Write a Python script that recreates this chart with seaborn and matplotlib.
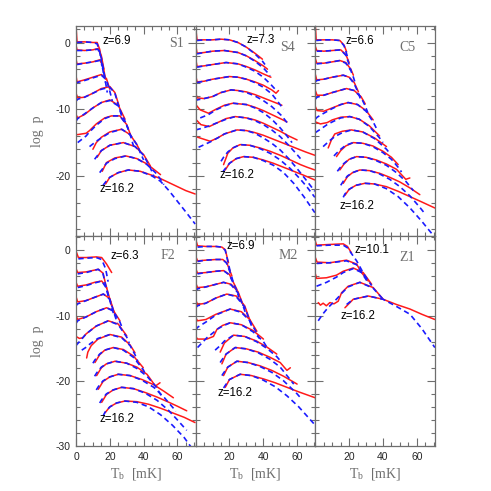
import numpy as np
import pandas as pd
import matplotlib
matplotlib.use("Agg")
import matplotlib.pyplot as plt
import seaborn as sns
from matplotlib.ticker import MultipleLocator, FixedLocator

N = None

# ---------------- data (T_b in mK, log p) ----------------
# each panel: list of curves; T = temperatures, sim = simulation (red), fit = model (blue dashed)
S1_T = [
    [0, 0.6, 5, 10, 12.5, 14, 15.5, 16.5],
    [0, 0.6, 5, 10, 13, 15, 16.5, 17.5],
    [0, 0.6, 5, 10, 14, 16, 17.5, 18.5],
    [0, 0.6, 5, 10, 15, 18, 20, 21.5],
    [0, 1, 5, 10, 15, 20, 23, 25.5, 27],
    [0, 1, 5, 10, 15, 20, 25, 29, 31],
    [0, 1, 6, 8, 12, 17, 21, 26, 30, 32.5, 34],
    [8, 10, 12, 15, 20, 27, 32, 36, 38, 40],
    [11, 12.5, 15, 20, 28, 35, 40, 44, 46],
    [14, 15.5, 18, 23, 29.5, 36, 42, 47, 50, 52],
    [16, 17.5, 20, 25, 31, 38, 45, 50, 55, 60, 65, 70.5],
]
S1_sim = [
    [2.4, 0.1, 0.1, 0.0, 0.0, -1.0, -3.0, N],
    [-0.4, -1.1, -1.2, -1.1, -0.9, -2.0, -4.0, N],
    [-2.5, -3.2, -3.1, -2.9, -2.6, -3.5, -5.5, N],
    [-5.0, -5.9, -5.6, -5.2, -4.8, -5.4, -7.0, N],
    [-7.6, -8.3, -8.2, -7.6, -6.9, -6.6, -7.5, -9.5, N],
    [-10.8, -11.3, -10.8, -9.8, -9.0, -8.6, -9.4, -11.5, N],
    [-13.8, -13.8, -13.6, -13.2, -12.2, -11.3, -11.0, -11.0, -12.3, -14.0, N],
    [N, -16.0, -15.0, -14.2, -13.4, -13.0, -13.8, -15.3, -16.3, N],
    [N, -17.2, -16.2, -15.4, -15.0, -15.6, -16.8, -18.5, N],
    [N, -19.3, -18.0, -17.3, -17.0, -17.4, -18.2, -19.2, -19.8, N],
    [N, -21.2, -20.2, -19.5, -19.1, -19.3, -19.9, -20.4, -21.0, -21.6, -22.2, -22.7],
]
S1_fit = [
    [N, 0.0, 0.1, 0.0, -0.2, -1.4, -3.5, -5.0],
    [N, -1.2, -1.2, -1.1, -1.0, -2.3, -4.5, -6.0],
    [N, -3.3, -3.1, -2.9, -2.7, -3.8, -6.0, -7.5],
    [-6.2, -6.0, -5.7, -5.3, -4.9, -5.6, -7.3, -8.8],
    [-8.8, -8.5, -8.2, -7.6, -7.0, -6.7, -7.6, -9.8, -11.0],
    [-11.8, -11.4, -10.7, -9.8, -9.0, -8.7, -9.5, -11.8, -13.0],
    [N, -15.0, -14.0, -13.4, -12.4, -11.4, -11.0, -11.0, -12.4, -14.2, -15.5],
    [-15.6, -15.2, -14.8, -14.3, -13.5, -13.0, -13.8, -15.3, -16.5, -17.6],
    [-17.5, -17.0, -16.2, -15.4, -15.0, -15.6, -16.9, -18.8, -20.0],
    [-19.5, -19.0, -18.1, -17.4, -17.0, -17.4, -18.3, -19.5, -20.5, -21.3],
    [-21.4, -20.9, -20.2, -19.5, -19.1, -19.3, -20.0, -20.8, -22.2, -23.8, -25.4, -27.2],
]

S4_T = [
    [0, 0.8, 5, 10, 15, 20, 25, 30, 35, 39.5, 41],
    [0, 0.8, 5, 10, 17, 25, 30, 35, 40, 42.5, 44],
    [0, 0.8, 5, 10, 18, 25, 30, 35, 40, 44.5, 47],
    [0, 0.8, 5, 10, 20, 25, 30, 35, 40, 45, 47.5, 49, 52],
    [0, 0.8, 5, 10, 15, 21, 25, 30, 35, 40, 45, 51, 54],
    [0, 2.7, 7.6, 12, 17, 22, 30, 35, 40, 45, 50, 54, 57],
    [0, 3, 8, 13, 18, 23.4, 30, 35, 40, 45, 50, 55, 60, 62],
    [0, 1.7, 8.6, 13, 17, 24.4, 30, 35, 40, 45, 50, 55, 60, 65, 70.5],
    [15, 16.5, 19, 22, 26.3, 32, 38, 44, 50, 56, 62, 66, 70.5],
    [16, 17.5, 20, 24, 28.3, 34, 40, 46, 52, 58, 64, 70.5],
]
S4_sim = [
    [2.2, 0.4, 0.4, 0.4, 0.5, 0.4, 0.0, -0.7, -1.6, -2.5, N],
    [-0.3, -1.6, -1.5, -1.3, -1.2, -1.5, -2.0, -2.7, -3.5, -4.0, N],
    [-2.4, -3.6, -3.5, -3.3, -3.0, -3.2, -3.6, -4.1, -4.7, -5.2, N],
    [-4.9, -5.9, -5.8, -5.5, -5.1, -5.2, -5.5, -5.9, -6.4, -7.1, -7.6, -7.2, N],
    [-7.5, -8.3, -8.4, -8.1, -7.5, -7.1, -7.2, -7.4, -7.8, -8.3, -8.8, -9.4, N],
    [-9.3, -10.1, -10.6, -10.0, -9.4, -9.1, -9.3, -9.7, -10.2, -10.8, -11.4, -11.9, N],
    [-11.5, -12.3, -12.6, -12.0, -11.4, -11.1, -11.3, -11.6, -12.1, -12.7, -13.3, -14.0, -14.6, N],
    [-14.1, N, -14.8, -14.3, -13.7, -13.1, -13.2, -13.5, -13.9, -14.4, -14.9, -15.4, -15.9, -16.4, -16.9],
    [N, -18.3, -16.6, -15.8, -15.3, -15.4, -15.8, -16.3, -16.9, -17.6, -18.3, -18.7, -19.1],
    [N, -19.1, -18.1, -17.4, -17.1, -17.2, -17.6, -18.1, -18.7, -19.3, -19.9, -20.6],
]
S4_fit = [
    [N, 0.3, 0.4, 0.4, 0.5, 0.4, 0.0, -0.7, -1.7, -2.8, -3.3],
    [N, -1.7, -1.5, -1.3, -1.2, -1.5, -2.0, -2.8, -3.8, -4.5, -5.0],
    [N, -3.7, -3.5, -3.3, -3.0, -3.2, -3.7, -4.3, -5.2, -6.3, -7.0],
    [N, -6.0, -5.8, -5.5, -5.1, -5.2, -5.5, -6.0, -6.7, -7.7, N, -9.0, -10.0],
    [-8.8, -8.6, -8.4, -8.1, -7.5, -7.1, -7.2, -7.5, -8.0, -8.7, -9.6, -11.0, -12.0],
    [N, -11.3, -10.8, -10.1, -9.5, -9.1, -9.3, -9.8, -10.5, -11.5, -12.8, -14.0, -15.0],
    [-13.1, -12.9, -12.5, -12.0, -11.5, -11.1, -11.3, -11.7, -12.3, -13.1, -14.1, -15.4, -16.8, -17.4],
    [N, -15.7, -14.9, -14.3, -13.7, -13.1, -13.2, -13.6, -14.3, -15.1, -16.1, -17.4, -18.9, -20.5, -22.3],
    [-17.8, -17.2, -16.4, -15.8, -15.3, -15.4, -15.9, -16.6, -17.6, -18.9, -20.5, -21.7, -23.2],
    [-19.4, -18.9, -18.1, -17.4, -17.1, -17.2, -17.7, -18.4, -19.5, -21.1, -23.1, -25.5],
]

C5_T = [
    [0, 0.5, 5, 10, 14.5, 17, 18.5, 19.5],
    [0, 0.8, 5, 10, 15, 18, 20, 21],
    [0, 0.8, 5, 10, 14.5, 18, 21, 22.5, 23.5],
    [0, 0.8, 5, 10, 16.5, 20, 23, 25.5, 27],
    [0, 1, 5, 10, 18.4, 23, 27, 29.5, 31],
    [0, 1, 5, 10, 15, 19.4, 25, 30, 34.2, 36],
    [0, 3, 7, 10, 15, 20.4, 26, 32, 38, 40],
    [4.6, 7.6, 9.5, 11.5, 16, 21.4, 28, 35, 42.1, 44],
    [11, 12.5, 15, 18, 22.4, 28, 34, 40, 45, 49, 51],
    [13, 14.5, 17, 20, 24.4, 30, 36, 42, 48, 53.5, 55.9, 58],
    [15, 16.5, 19, 22, 26.3, 32, 38, 44, 50, 56, 61.8, 64],
    [16.5, 17.5, 20, 24, 29.3, 35, 42, 49, 56, 63, 70.7],
]
C5_sim = [
    [2.4, 0.4, 0.4, 0.4, 0.3, -0.4, -1.4, N],
    [-0.6, -1.2, -1.3, -1.2, -1.1, -1.8, -3.0, N],
    [-2.4, -3.1, -3.1, -2.9, -2.7, -3.0, -4.0, -4.9, N],
    [-4.8, -5.6, -5.5, -5.2, -4.9, -5.2, -6.0, -7.4, N],
    [-7.2, -7.9, -7.9, -7.5, -6.9, -7.2, -8.1, -9.2, N],
    [-9.6, -10.2, -10.3, -9.8, -9.3, -9.0, -9.3, -10.2, -11.6, N],
    [-11.9, -12.2, -12.0, -11.6, -11.2, -11.1, -11.5, -12.5, -14.0, N],
    [N, -15.8, -14.6, -13.7, -13.3, -13.1, -13.4, -14.3, -15.6, N],
    [N, -17.1, -16.2, -15.5, -15.0, -15.1, -15.5, -16.3, -17.2, -18.3, N],
    [N, -19.1, -18.2, -17.5, -17.1, -17.2, -17.6, -18.2, -19.0, -20.5, -20.3, N],
    [N, -21.1, -20.1, -19.5, -19.1, -19.2, -19.6, -20.2, -20.9, -21.8, -22.8, N],
    [N, -22.9, -22.0, -21.4, -21.1, -21.2, -21.6, -22.3, -23.1, -23.9, -24.8],
]
C5_fit = [
    [N, 0.3, 0.4, 0.4, 0.3, -0.5, -1.7, -2.6],
    [N, -1.3, -1.3, -1.2, -1.1, -1.9, -3.3, -4.2],
    [N, -3.2, -3.1, -2.9, -2.7, -3.1, -4.2, -5.2, -6.0],
    [-5.9, -5.7, -5.5, -5.2, -4.9, -5.2, -6.2, -7.6, -8.7],
    [-8.5, -8.2, -7.9, -7.5, -6.9, -7.2, -8.2, -9.5, -10.5],
    [-11.5, -11.2, -10.6, -9.9, -9.3, -9.0, -9.3, -10.3, -11.9, -12.8],
    [-13.5, -13.0, -12.3, -11.9, -11.3, -11.1, -11.5, -12.6, -14.3, -15.0],
    [-15.6, -14.9, -14.5, -14.1, -13.5, -13.1, -13.4, -14.4, -16.0, -16.6],
    [-17.0, -16.6, -16.0, -15.4, -15.0, -15.1, -15.6, -16.5, -17.5, -18.7, -19.4],
    [-19.3, -18.8, -18.1, -17.5, -17.1, -17.2, -17.7, -18.4, -19.5, -20.8, N, -22.2],
    [-21.4, -20.8, -20.0, -19.5, -19.1, -19.2, -19.7, -20.5, -21.6, -23.0, -24.7, -25.4],
    [-23.2, -22.7, -22.0, -21.4, -21.1, -21.2, -21.9, -23.1, -24.8, -26.8, -29.2],
]

F2_T = [
    [0, 1.4, 6, 12, 15.2, 17.5, 18.1, 19, 21.1],
    [0, 1, 6, 13.2, 16, 18.1, 19.5],
    [0, 1, 6, 11, 15.2, 18, 21.1, 22.5],
    [0, 1, 6, 11, 16.2, 20, 23, 24.5],
    [0, 1, 6, 12, 18.1, 22, 26, 27.5],
    [0, 2, 4, 6, 12, 19.1, 25, 30, 31.5],
    [3.4, 6.3, 7, 9, 13, 20.1, 27, 32, 34.9, 36.5],
    [10, 11.2, 14, 17, 22, 28, 34, 39.8, 41.5],
    [11, 12.2, 15, 18, 23.1, 30, 36, 42, 47, 49.7, 51],
    [12, 13.2, 16, 20, 25, 32, 39, 46, 52, 57.6, 59],
    [14, 15.2, 18, 22, 27, 34, 41, 48, 55, 60, 65.5],
    [16, 17.2, 20, 24, 29, 36, 43, 50, 57, 64, 70.4],
]
F2_sim = [
    [-0.1, -1.1, -1.1, -1.0, -1.1, N, -2.1, N, -3.4],
    [-2.8, -3.4, -3.3, -2.9, -3.5, -5.8, N],
    [-4.9, -5.5, -5.3, -4.9, -4.7, -5.6, -8.5, N],
    [-7.1, -7.9, -7.7, -7.2, -6.7, -7.4, -9.8, N],
    [-10.0, -10.6, -10.2, -9.4, -8.8, -9.2, -10.8, N],
    [-13.2, -13.5, -13.4, -12.8, -11.6, -10.8, -11.3, -13.1, N],
    [N, -16.5, -15.6, -14.6, -13.6, -12.9, -13.3, -14.5, -15.7, N],
    [N, -17.2, -16.0, -15.3, -14.9, -15.2, -16.2, -18.0, N],
    [N, -19.2, -18.0, -17.4, -17.0, -17.3, -17.9, -19.0, -20.8, -20.3, N],
    [N, -21.3, -20.1, -19.4, -19.0, -19.2, -19.8, -20.6, -21.6, -22.6, N],
    [N, -23.3, -22.1, -21.4, -21.0, -21.2, -21.8, -22.5, -23.3, -23.9, -24.6],
    [N, -24.9, -24.0, -23.4, -23.1, -23.2, -23.6, -24.2, -24.9, -25.6, -26.4],
]
F2_fit = [
    [N, -1.3, -1.2, -1.1, -1.4, -2.8, N, -4.8, N],
    [N, -3.6, -3.4, -2.9, -3.6, -6.0, -7.5],
    [N, -5.7, -5.4, -5.0, -4.7, -5.8, -8.7, -10.0],
    [-8.5, -8.2, -7.7, -7.2, -6.7, -7.5, -10.0, -11.2],
    [-11.2, -10.8, -10.2, -9.4, -8.8, -9.3, -11.0, -12.0],
    [-14.6, -14.0, -13.4, -12.8, -11.6, -10.8, -11.4, -13.3, -14.2],
    [-15.3, -14.8, -14.6, -14.2, -13.5, -12.9, -13.4, -14.6, -16.0, -17.0],
    [-17.3, -16.8, -15.9, -15.3, -14.9, -15.3, -16.4, -18.3, -19.2],
    [-19.3, -18.8, -17.9, -17.4, -17.0, -17.3, -18.1, -19.3, -20.8, N, -22.5],
    [-21.4, -20.9, -20.0, -19.4, -19.0, -19.2, -19.9, -21.0, -22.5, -24.2, -24.7],
    [-23.4, -22.9, -22.0, -21.4, -21.0, -21.2, -21.9, -23.0, -24.6, -26.0, -27.6],
    [-25.4, -24.8, -24.0, -23.4, -23.1, -23.3, -24.0, -25.2, -26.8, -28.7, -31.0],
]

M2_T = [
    [0, 1.1, 6, 12, 15.5, 17.5, 19.4, 20.5],
    [0, 1.1, 6, 12, 16, 18.4, 21.4, 22.5],
    [0, 1.1, 6, 12, 16.5, 20, 24.4, 25.5],
    [0, 1.1, 6, 12, 16.5, 21, 25, 28.3, 29.5],
    [0, 1.1, 6, 12, 18.4, 24, 29, 32.2, 33.5],
    [0, 1.1, 6, 12, 20.4, 27, 32, 36.2, 37.5],
    [0, 1.1, 6.6, 10.5, 12.6, 16, 20.4, 27, 34, 40.1, 42],
    [11.5, 14.5, 17, 22.4, 29, 36, 42, 48, 50],
    [14.5, 15.5, 18, 23.4, 30, 37, 44, 50, 54, 56, 58],
    [15.5, 16.5, 19, 24.4, 31, 38, 45, 52, 60, 62],
    [16.5, 17.5, 20, 26.3, 33, 40, 47, 54, 61, 70.7],
]
M2_sim = [
    [1.7, 0.7, 0.6, 0.6, 0.5, 0.1, -1.9, N],
    [-0.9, -1.6, -1.5, -1.4, -1.4, -1.9, -3.9, N],
    [-2.8, -3.5, -3.4, -3.2, -3.1, -3.7, -6.0, N],
    [-5.0, -5.7, -5.6, -5.2, -4.9, -5.2, -6.3, -8.5, N],
    [-7.6, -8.3, -8.1, -7.3, -6.7, -7.0, -8.5, -10.8, N],
    [-10.3, -10.8, -10.6, -9.8, -9.0, -9.4, -10.6, -12.4, N],
    [-13.2, -13.6, -13.6, -13.2, -12.1, -11.5, -11.1, -11.4, -12.3, -13.6, N],
    [N, -15.6, -14.2, -13.0, -13.2, -13.9, -14.8, -15.9, N],
    [N, -17.4, -15.9, -14.9, -15.1, -15.6, -16.4, -17.2, -18.4, -18.0, N],
    [N, -19.2, -17.9, -17.0, -17.2, -17.7, -18.4, -19.3, -20.5, N],
    [N, -21.0, -19.8, -19.0, -19.2, -19.7, -20.3, -21.0, -21.7, -22.6],
]
M2_fit = [
    [N, 0.5, 0.6, 0.6, 0.5, 0.0, -2.1, -3.3],
    [N, -1.7, -1.5, -1.4, -1.4, -2.0, -4.1, -5.2],
    [N, -3.6, -3.4, -3.2, -3.1, -3.8, -6.2, -7.2],
    [-6.2, -5.9, -5.6, -5.2, -4.9, -5.3, -6.5, -8.7, -9.6],
    [-8.8, -8.5, -8.1, -7.3, -6.7, -7.1, -8.7, -11.0, -11.9],
    [-12.2, -11.8, -11.0, -9.9, -9.0, -9.5, -10.8, -12.7, -13.5],
    [N, -14.9, -13.4, -12.6, -12.1, -11.6, -11.1, -11.4, -12.5, -14.0, -14.8],
    [-15.3, -14.6, -13.9, -13.0, -13.2, -14.0, -15.0, -16.3, -16.9],
    [-17.2, -16.8, -15.9, -14.9, -15.1, -15.7, -16.7, -17.9, -19.2, N, -20.5],
    [-19.2, -18.8, -17.9, -17.0, -17.2, -17.8, -18.7, -20.0, -22.0, -22.6],
    [-21.1, -20.7, -19.8, -19.0, -19.2, -19.9, -20.9, -22.3, -24.0, -26.8],
]

Z1_T = [
    [0, 0.7, 8, 16.5, 19, 21.4, 24.4, 28, 31.3],
    [0, 1, 8.6, 18.4, 24.4, 27.3, 31.3],
    [0, 0.7, 6.6, 12.5, 16.5, 22.4, 28.3, 33.3],
    [1.7, 3, 4.6, 6.5, 8.6, 11, 13.5, 15.5, 19.4, 26.3, 34.2, 40.1],
    [17.5, 18.5, 22.4, 31.3, 40.1, 48, 56, 63, 70.7],
]
Z1_sim = [
    [1.4, 0.8, 0.9, 1.0, 0.6, -0.4, N, N, N],
    [-1.1, -1.8, -1.9, -1.5, -2.1, -3.4, -4.7],
    [-3.6, -4.3, -4.2, -3.8, -3.2, -2.7, -3.4, -5.2],
    [-8.0, -8.4, -8.1, -8.5, -8.0, -8.2, -7.8, -6.5, -5.5, -4.9, -5.7, -7.5],
    [-8.8, N, -7.5, -7.0, -7.5, -8.3, -9.0, -9.8, -10.6],
]
Z1_fit = [
    [N, 0.7, 0.8, 0.8, 0.4, -0.5, -1.6, -3.3, -4.9],
    [N, -2.0, -1.9, -1.6, -2.2, -3.4, -5.0],
    [N, -5.5, -4.9, -4.1, -3.4, -2.8, -3.5, -5.4],
    [-10.8, -10.3, -9.7, -9.1, -8.5, -7.9, -7.2, -6.6, -5.6, -4.9, -5.8, -7.5],
    [N, -8.3, -7.5, -7.0, -7.5, -8.6, -9.8, -12.0, -14.9],
]

panel_names = ["S1", "S4", "C5", "F2", "M2", "Z1"]
z_top = ["z=6.9", "z=7.3", "z=6.6", "z=6.3", "z=6.9", "z=10.1"]
z_bottom = ["z=16.2"] * 6

# ---------------- figure ----------------
sns.set_theme(style="ticks")
plt.rcParams["font.family"] = ["Liberation Sans", "DejaVu Sans"]
plt.rcParams["axes.unicode_minus"] = False
plt.rcParams["mathtext.fontset"] = "stix"

GRAY = "#6e6e6e"
fig, axes = plt.subplots(2, 3, figsize=(4.91, 4.91), dpi=100)
fig.subplots_adjust(left=0.1548, right=0.886, top=0.947, bottom=0.0916,
                    wspace=0, hspace=0)

panels = [
    (S1_T, S1_sim, S1_fit), (S4_T, S4_sim, S4_fit), (C5_T, C5_sim, C5_fit),
    (F2_T, F2_sim, F2_fit), (M2_T, M2_sim, M2_fit), (Z1_T, Z1_sim, Z1_fit),
]

ztop_pos = [(15.8, 0.3), (30.3, 0.4), (18.0, 0.3), (20.5, -0.9), (18.0, 0.6), (23.0, 0.0)]
zbot_pos = [(13.8, -21.9), (14.1, -19.8), (14.5, -24.5), (13.8, -25.9), (13.1, -21.9), (15.1, -10.1)]
name_pos = [(0.837, 0.915), (0.766, 0.9), (0.766, 0.9), (0.77, 0.905), (0.776, 0.905), (0.77, 0.9)]


def long_frame(T, sim, fit):
    rows = []
    for k, (t, s, f) in enumerate(zip(T, sim, fit)):
        for ti, si, fi in zip(t, s, f):
            if si is not None:
                rows.append((k, "sim", ti, si))
            if fi is not None:
                rows.append((k, "fit", ti, fi))
    return pd.DataFrame(rows, columns=["curve", "series", "T", "logp"])


for i, ax in enumerate(axes.flat):
    df = long_frame(*panels[i])
    sns.lineplot(data=df[df.series == "sim"], x="T", y="logp", units="curve",
                 estimator=None, sort=False, color="#ff1a1a", lw=1.1, ax=ax,
                 legend=False)
    sns.lineplot(data=df[df.series == "fit"], x="T", y="logp", units="curve",
                 estimator=None, sort=False, color="#1a1aff", lw=1.2, ax=ax,
                 legend=False, dashes=False)
    for ln in ax.get_lines()[-len(panels[i][0]):]:
        ln.set_dashes((3.2, 2.2))

    row = i // 3
    ax.set_xlim(0, 70.8)
    ax.set_ylim((-29.0, 2.47) if row == 0 else (-30.0, 2.2))
    ax.xaxis.set_major_locator(FixedLocator([0, 20, 40, 60]))
    ax.xaxis.set_minor_locator(MultipleLocator(5))
    ax.yaxis.set_major_locator(MultipleLocator(10))
    ax.yaxis.set_minor_locator(MultipleLocator(2))
    ax.tick_params(which="both", direction="in", top=True, right=True,
                   color=GRAY, width=0.8, labelsize=7.5, pad=4)
    ax.tick_params(which="major", length=5.5)
    ax.tick_params(which="minor", length=3)
    for sp in ax.spines.values():
        sp.set_color(GRAY)
        sp.set_linewidth(0.9)
    ax.set_xlabel("")
    ax.set_ylabel("")
    if row == 0:
        ax.tick_params(labelbottom=False)
    else:
        if i % 3 != 0:
            ax.set_xticks([20, 40, 60])
            ax.xaxis.set_minor_locator(MultipleLocator(5))
    if i % 3 != 0:
        ax.tick_params(labelleft=False)
    else:
        if row == 0:
            ax.set_yticks([0, -10, -20])
        else:
            ax.set_yticks([0, -10, -20, -30])
        ax.yaxis.set_minor_locator(MultipleLocator(2))

    ax.text(*ztop_pos[i], z_top[i], fontsize=8.3, ha="left", va="center",
            color="black")
    ax.text(*zbot_pos[i], z_bottom[i], fontsize=8.3, ha="left", va="center",
            color="black")
    ax.text(*name_pos[i], panel_names[i], transform=ax.transAxes,
            fontsize=10, ha="center", va="center", color=GRAY,
            family="Liberation Serif")

for j in range(3):
    ax = axes[1, j]
    ax.text(0.5, -0.135, r"T$_\mathregular{b}$  [mK]", transform=ax.transAxes,
            ha="center", va="center", fontsize=10, color=GRAY,
            family="Liberation Serif")
for r in range(2):
    ax = axes[r, 0]
    ax.text(-0.32, 0.5, "log  p", transform=ax.transAxes, rotation=90,
            ha="center", va="center", fontsize=10, color=GRAY,
            family="Liberation Serif")

fig.savefig("out.png", dpi=100)
